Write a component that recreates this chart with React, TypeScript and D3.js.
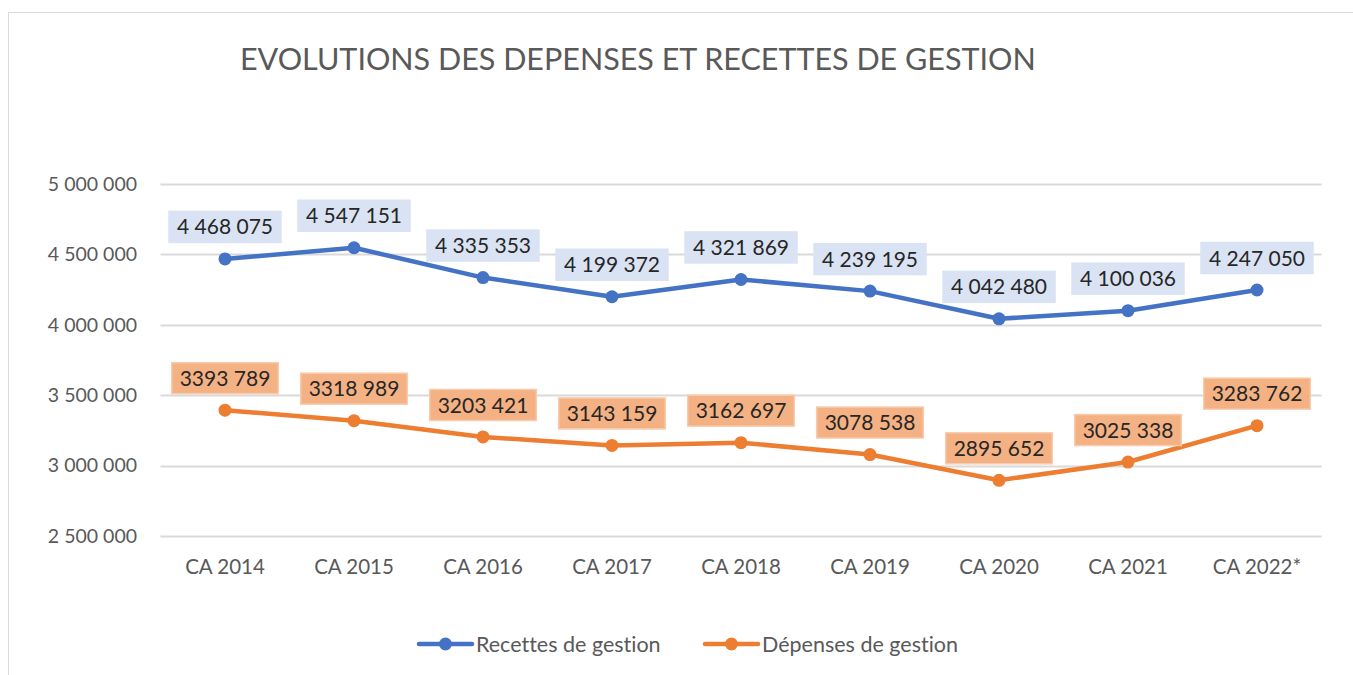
import React, { useEffect, useRef } from "react";
import * as d3 from "d3";

const categories = ["CA 2014", "CA 2015", "CA 2016", "CA 2017", "CA 2018", "CA 2019", "CA 2020", "CA 2021", "CA 2022*"];
const recettes = [4468075, 4547151, 4335353, 4199372, 4321869, 4239195, 4042480, 4100036, 4247050];
const depenses = [3393789, 3318989, 3203421, 3143159, 3162697, 3078538, 2895652, 3025338, 3283762];
const yTicks = [2500000, 3000000, 3500000, 4000000, 4500000, 5000000];
const seriesNames = ["Recettes de gestion", "Dépenses de gestion"];
const title = "EVOLUTIONS DES DEPENSES ET RECETTES DE GESTION";

const W = 1353;
const H = 675;
const FONT = "Lato, 'Open Sans', sans-serif";

const fmtFull = (v: number) => {
  const s = String(Math.round(v));
  return s.replace(/\B(?=(\d{3})+(?!\d))/g, " ");
};
const fmtLastGroup = (v: number) => {
  const s = String(Math.round(v));
  return s.slice(0, s.length - 3) + " " + s.slice(s.length - 3);
};

export default function App() {
  const ref = useRef<SVGSVGElement>(null);

  useEffect(() => {
    const svg = d3.select(ref.current);
    svg.selectAll("*").remove();

    const x = d3.scaleBand<string>().domain(categories).range([160.5, 1321.5]);
    const y = d3.scaleLinear().domain([2500000, 5000000]).range([536, 184]);
    const cx = (c: string) => (x(c) as number) + x.bandwidth() / 2;

    // frame
    svg.append("rect").attr("x", 8.5).attr("y", 12.5).attr("width", W + 20).attr("height", H + 20)
      .attr("fill", "white").attr("stroke", "#d9d9d9").attr("stroke-width", 1);

    // title
    svg.append("text").attr("x", 240).attr("y", 70).text(title)
      .attr("font-family", FONT).attr("font-size", 30.5).attr("fill", "#595959");

    // gridlines
    svg.append("g").selectAll("line").data(yTicks).join("line")
      .attr("x1", 160.5).attr("x2", 1321.5)
      .attr("y1", d => Math.round(y(d)) + 0.5).attr("y2", d => Math.round(y(d)) + 0.5)
      .attr("stroke", "#d9d9d9").attr("stroke-width", 2);

    // y labels
    svg.append("g").selectAll("text").data(yTicks).join("text")
      .attr("x", 137).attr("y", d => y(d)).attr("dy", "0.35em").attr("text-anchor", "end")
      .attr("font-family", FONT).attr("font-size", 19.5).attr("fill", "#595959")
      .text(d => fmtFull(d));

    // x labels
    svg.append("g").selectAll("text").data(categories).join("text")
      .attr("x", d => cx(d)).attr("y", 567).attr("dy", "0.35em").attr("text-anchor", "middle")
      .attr("font-family", FONT).attr("font-size", 20.5).attr("fill", "#595959")
      .text(d => d);

    const series = [
      { values: recettes, color: "#4472c4", fill: "#dae3f3", stroke: "#dae3f3", fmt: fmtFull },
      { values: depenses, color: "#ed7d31", fill: "#f4b183", stroke: "#f8cbad", fmt: fmtLastGroup },
    ];

    const line = d3.line<number>().x((_, i) => cx(categories[i])).y(d => y(d));

    series.forEach(s => {
      svg.append("path").datum(s.values).attr("d", line).attr("fill", "none")
        .attr("stroke", s.color).attr("stroke-width", 4.5).attr("stroke-linejoin", "round").attr("stroke-linecap", "round");
      svg.append("g").selectAll("circle").data(s.values).join("circle")
        .attr("cx", (_, i) => cx(categories[i])).attr("cy", d => y(d)).attr("r", 6.5).attr("fill", s.color);
    });

    series.forEach(s => {
      const g = svg.append("g");
      s.values.forEach((v, i) => {
        const lx = cx(categories[i]);
        const ly = y(v) - 32;
        const lg = g.append("g");
        const rect = lg.append("rect");
        const t = lg.append("text").attr("x", lx).attr("y", ly).attr("dy", "0.36em").attr("text-anchor", "middle")
          .attr("font-family", FONT).attr("font-size", 21).attr("fill", "#262626").text(s.fmt(v));
        const bb = (t.node() as SVGTextElement).getBBox();
        const bw = bb.width + 16;
        const bh = 31;
        rect.attr("x", lx - bw / 2).attr("y", ly - bh / 2).attr("width", bw).attr("height", bh)
          .attr("fill", s.fill).attr("stroke", s.stroke).attr("stroke-width", 1.5);
      });
    });

    // legend
    const legend = [
      { name: seriesNames[0], color: "#4472c4", x0: 419 },
      { name: seriesNames[1], color: "#ed7d31", x0: 705 },
    ];
    legend.forEach(l => {
      svg.append("line").attr("x1", l.x0).attr("x2", l.x0 + 53).attr("y1", 644).attr("y2", 644)
        .attr("stroke", l.color).attr("stroke-width", 4.5).attr("stroke-linecap", "round");
      svg.append("circle").attr("cx", l.x0 + 26.5).attr("cy", 644).attr("r", 6.5).attr("fill", l.color);
      svg.append("text").attr("x", l.x0 + 57).attr("y", 644).attr("dy", "0.35em")
        .attr("font-family", FONT).attr("font-size", 21.5).attr("fill", "#595959")
        .style("font-variant-ligatures", "none").text(l.name);
    });
  }, []);

  return (
    <div style={{ position: "absolute", left: 0, top: 0 }}>
      <svg ref={ref} width={W} height={H} style={{ display: "block", fontVariantLigatures: "none" }} />
    </div>
  );
}
